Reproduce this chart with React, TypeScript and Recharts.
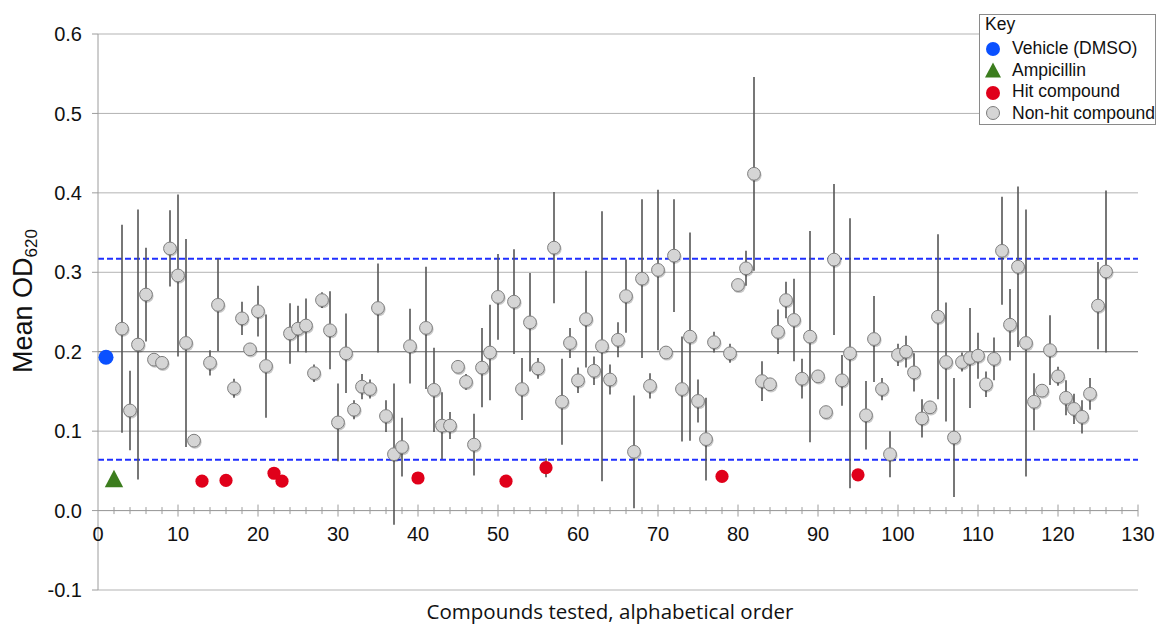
import React from 'react';
import {
  ScatterChart,
  Scatter,
  XAxis,
  YAxis,
  CartesianGrid,
  ReferenceLine,
  ErrorBar,
} from 'recharts';

// ---------------- data ----------------
const vehicleX = [1];
const vehicleMean = [0.193];

const ampicillinX = [2];
const ampicillinMean = [0.04];

const hitX = [13, 16, 22, 23, 40, 51, 56, 78, 95];
const hitMean = [0.037, 0.038, 0.047, 0.037, 0.041, 0.037, 0.054, 0.043, 0.045];
const hitSd = [0, 0, 0, 0, 0, 0, 0.012, 0, 0];

const nonHitX = [
  3, 4, 5, 6, 7, 8, 9, 10, 11, 12, 14, 15, 17, 18, 19, 20, 21, 24, 25, 26,
  27, 28, 29, 30, 31, 32, 33, 34, 35, 36, 37, 38, 39, 41, 42, 43, 44, 45, 46, 47,
  48, 49, 50, 52, 53, 54, 55, 57, 58, 59, 60, 61, 62, 63, 64, 65, 66, 67, 68, 69,
  70, 71, 72, 73, 74, 75, 76, 77, 79, 80, 81, 82, 83, 84, 85, 86, 87, 88, 89, 90,
  91, 92, 93, 94, 96, 97, 98, 99, 100, 101, 102, 103, 104, 105, 106, 107, 108, 109, 110, 111,
  112, 113, 114, 115, 116, 117, 118, 119, 120, 121, 122, 123, 124, 125, 126,
];
const nonHitMean = [
  0.229, 0.126, 0.209, 0.272, 0.19, 0.186, 0.33, 0.296, 0.211, 0.088, 0.186, 0.259, 0.154, 0.242, 0.203, 0.251, 0.182, 0.223, 0.229, 0.233,
  0.173, 0.265, 0.227, 0.111, 0.198, 0.127, 0.156, 0.153, 0.255, 0.119, 0.071, 0.08, 0.207, 0.23, 0.152, 0.107, 0.107, 0.181, 0.162, 0.083,
  0.18, 0.199, 0.269, 0.263, 0.153, 0.237, 0.179, 0.331, 0.137, 0.211, 0.164, 0.241, 0.176, 0.207, 0.165, 0.215, 0.27, 0.074, 0.292, 0.157,
  0.303, 0.199, 0.321, 0.153, 0.219, 0.138, 0.09, 0.212, 0.198, 0.284, 0.305, 0.424, 0.163, 0.159, 0.225, 0.265, 0.24, 0.166, 0.219, 0.169,
  0.124, 0.316, 0.164, 0.198, 0.12, 0.216, 0.153, 0.071, 0.196, 0.2, 0.174, 0.116, 0.13, 0.244, 0.187, 0.092, 0.187, 0.192, 0.195, 0.159,
  0.191, 0.327, 0.234, 0.307, 0.211, 0.137, 0.151, 0.202, 0.169, 0.142, 0.128, 0.118, 0.147, 0.258, 0.301,
];
const nonHitSd = [
  0.131, 0.05, 0.17, 0.059, 0.005, 0.004, 0.048, 0.102, 0.131, 0.004, 0.016, 0.058, 0.012, 0.021, 0.005, 0.032, 0.065, 0.038, 0.029, 0.034,
  0.011, 0.01, 0.049, 0.049, 0.05, 0.012, 0.016, 0.012, 0.056, 0.02, 0.089, 0.037, 0.047, 0.077, 0.053, 0.042, 0.017, 0.004, 0.01, 0.039,
  0.05, 0.06, 0.054, 0.066, 0.039, 0.062, 0.013, 0.07, 0.054, 0.019, 0.016, 0.061, 0.018, 0.17, 0.019, 0.022, 0.046, 0.071, 0.1, 0.016,
  0.101, 0.006, 0.071, 0.066, 0.131, 0.027, 0.052, 0.013, 0.012, 0.006, 0.022, 0.122, 0.025, 0.005, 0.028, 0.023, 0.052, 0.025, 0.133, 0.005,
  0.004, 0.095, 0.032, 0.17, 0.043, 0.054, 0.014, 0.029, 0.014, 0.02, 0.024, 0.024, 0.005, 0.104, 0.075, 0.075, 0.012, 0.063, 0.029, 0.016,
  0.027, 0.068, 0.045, 0.101, 0.168, 0.036, 0.005, 0.044, 0.012, 0.022, 0.019, 0.021, 0.02, 0.055, 0.102,
];

const upperThreshold = 0.317;
const lowerThreshold = 0.064;

const yTicks = [-0.1, 0, 0.1, 0.2, 0.3, 0.4, 0.5, 0.6];
const xTicks = [
  0, 2, 4, 6, 8, 10, 12, 14, 16, 18, 20, 22, 24, 26, 28, 30, 32, 34, 36, 38, 40,
  42, 44, 46, 48, 50, 52, 54, 56, 58, 60, 62, 64, 66, 68, 70, 72, 74, 76, 78, 80,
  82, 84, 86, 88, 90, 92, 94, 96, 98, 100, 102, 104, 106, 108, 110, 112, 114, 116,
  118, 120, 122, 124, 126, 128, 130,
];

const legendItems = ['Vehicle (DMSO)', 'Ampicillin', 'Hit compound', 'Non-hit compound'];

// ---------------- tables for the library ----------------
const vehicleData = vehicleX.map((x, i) => ({ x, y: vehicleMean[i] }));
const ampicillinData = ampicillinX.map((x, i) => ({ x, y: ampicillinMean[i] }));
const hitData = hitX.map((x, i) => ({ x, y: hitMean[i], sd: hitSd[i] }));
const nonHitData = nonHitX.map((x, i) => ({ x, y: nonHitMean[i], sd: nonHitSd[i] }));

// ---------------- layout ----------------
const W = 1157;
const H = 626;
const MARGIN = { top: 34, right: 19, bottom: 0, left: 0 };
const Y_AXIS_W = 98;
const X_AXIS_H = 36;
const Y_MIN = -0.1;
const Y_MAX = 0.6;
const PLOT_H = H - MARGIN.top - MARGIN.bottom - X_AXIS_H;
const ZERO_Y = MARGIN.top + (PLOT_H * (Y_MAX - 0)) / (Y_MAX - Y_MIN);

const SANS = '"Liberation Sans", Arial, Helvetica, sans-serif';

const GRAY_FILL = '#d5d5d5';
const GRAY_STROKE = '#7d7d7d';
const RED = '#e0001a';
const BLUE = '#0a50ff';
const GREEN = '#3c7d1e';

const XTick = (props: any) => {
  const { x, payload } = props;
  const v = payload.value;
  const major = v % 10 === 0;
  const len = major ? 6 : 3.5;
  return (
    <g>
      {v !== 0 && (
        <line x1={x} x2={x} y1={ZERO_Y - len} y2={ZERO_Y + len} stroke="#9c9c9c" strokeWidth={1} />
      )}
      {major && (
        <text x={x} y={ZERO_Y + 30} textAnchor="middle" fontSize={20} fontFamily={SANS} fill="#111">
          {v}
        </text>
      )}
    </g>
  );
};

const XTitle = () => (
  <text x={610} y={619} textAnchor="middle" fontSize={20.5} fontFamily='"Open Sans", sans-serif' fill="#111">
    Compounds tested, alphabetical order
  </text>
);

const YTitle = () => (
  <text
    x={32}
    y={301}
    transform="rotate(-90 32 301)"
    textAnchor="middle"
    fontSize={27}
    fontFamily={SANS}
    fill="#111"
  >
    Mean OD
    <tspan fontSize={17} dy={5}>
      620
    </tspan>
  </text>
);

const GrayDot = (props: any) => {
  const { cx, cy } = props;
  if (cx == null || cy == null) return null;
  return (
    <g>
      <circle cx={cx + 1} cy={cy + 1.5} r={6.6} fill="rgba(0,0,0,0.22)" />
      <circle cx={cx} cy={cy} r={6.4} fill={GRAY_FILL} stroke={GRAY_STROKE} strokeWidth={1} />
    </g>
  );
};

const RedDot = (props: any) => {
  const { cx, cy } = props;
  if (cx == null || cy == null) return null;
  return <circle cx={cx} cy={cy} r={6.6} fill={RED} />;
};

const BlueDot = (props: any) => {
  const { cx, cy } = props;
  if (cx == null || cy == null) return null;
  return <circle cx={cx} cy={cy} r={7.5} fill={BLUE} />;
};

const GreenTriangle = (props: any) => {
  const { cx, cy } = props;
  if (cx == null || cy == null) return null;
  return (
    <polygon
      points={`${cx},${cy - 9} ${cx - 9.2},${cy + 8.5} ${cx + 9.2},${cy + 8.5}`}
      fill={GREEN}
    />
  );
};

const LegendSymbol = ({ kind }: { kind: number }) => (
  <svg width={18} height={18} style={{ display: 'block' }}>
    {kind === 0 && <circle cx={9} cy={9} r={7} fill={BLUE} />}
    {kind === 1 && <polygon points="9,1.5 1,16.5 17,16.5" fill={GREEN} />}
    {kind === 2 && <circle cx={9} cy={10} r={7} fill={RED} />}
    {kind === 3 && <circle cx={9} cy={9} r={6.5} fill={GRAY_FILL} stroke={GRAY_STROKE} strokeWidth={1} />}
  </svg>
);

const KeyBox = () => (
  <div
    style={{
      position: 'absolute',
      left: 979,
      top: 14,
      width: 177,
      height: 111,
      boxSizing: 'border-box',
      border: '1px solid #8a8a8a',
      background: '#fff',
      fontFamily: SANS,
      fontSize: 17.5,
      color: '#111',
      lineHeight: '21px',
    }}
  >
    <div style={{ position: 'absolute', left: 5, top: -1 }}>Key</div>
    {legendItems.map((label, i) => (
      <div
        key={label}
        style={{
          position: 'absolute',
          left: 4,
          top: 23 + i * 21.5,
          display: 'flex',
          alignItems: 'center',
          whiteSpace: 'nowrap',
        }}
      >
        <LegendSymbol kind={i} />
        <span style={{ marginLeft: 10 }}>{label}</span>
      </div>
    ))}
  </div>
);

export default function App() {
  return (
    <div style={{ position: 'absolute', left: 0, top: 0, width: W, height: H, background: '#fff' }}>
      <ScatterChart width={W} height={H} margin={MARGIN}>
        <CartesianGrid vertical={false} stroke="#b3b3b3" strokeWidth={1} />
        <XAxis
          type="number"
          dataKey="x"
          domain={[0, 130]}
          ticks={xTicks}
          interval={0}
          allowDataOverflow
          height={X_AXIS_H}
          axisLine={false}
          tickLine={false}
          tickSize={0}
          tickMargin={0}
          tick={<XTick />}
          label={<XTitle />}
        />
        <YAxis
          type="number"
          dataKey="y"
          domain={[Y_MIN, Y_MAX]}
          ticks={yTicks}
          interval={0}
          allowDataOverflow
          width={Y_AXIS_W}
          tickFormatter={(v: number) => v.toFixed(1)}
          tick={{ fontSize: 20, fontFamily: SANS, fill: '#111' }}
          tickSize={6}
          tickMargin={10}
          axisLine={{ stroke: '#9c9c9c' }}
          tickLine={{ stroke: '#9c9c9c' }}
          label={<YTitle />}
        />
        <ReferenceLine y={0.2} stroke="#7a7a7a" strokeWidth={1} />
        <ReferenceLine y={0} stroke="#9c9c9c" strokeWidth={1} />
        <ReferenceLine y={upperThreshold} stroke="#1f2fff" strokeWidth={2} strokeDasharray="6 3" />
        <ReferenceLine y={lowerThreshold} stroke="#1f2fff" strokeWidth={2} strokeDasharray="6 3" />
        <Scatter data={nonHitData} shape={<GrayDot />} isAnimationActive={false}>
          <ErrorBar dataKey="sd" direction="y" width={0} stroke="#555" strokeWidth={1.6} isAnimationActive={false} />
        </Scatter>
        <Scatter data={hitData} shape={<RedDot />} isAnimationActive={false}>
          <ErrorBar dataKey="sd" direction="y" width={0} stroke="#555" strokeWidth={1.6} isAnimationActive={false} />
        </Scatter>
        <Scatter data={vehicleData} shape={<BlueDot />} isAnimationActive={false} />
        <Scatter data={ampicillinData} shape={<GreenTriangle />} isAnimationActive={false} />
      </ScatterChart>
      <KeyBox />
    </div>
  );
}
